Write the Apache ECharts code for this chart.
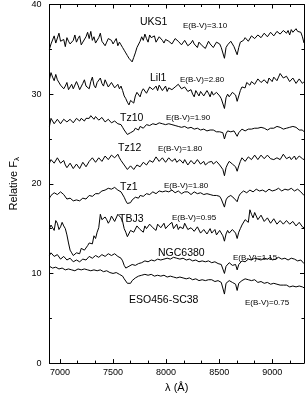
<!DOCTYPE html>
<html><head><meta charset="utf-8">
<script src="https://cdn.jsdelivr.net/npm/echarts@6/dist/echarts.min.js"></script>
<style>html,body{margin:0;padding:0;background:#fff}#c{width:305px;height:398px}</style>
</head><body><div id="c"></div>
<script>
const wavelength = [6900,6930,6960,6990,7020,7050,7080,7110,7140,7170,7200,7230,7260,7290,7320,7350,7380,7410,7440,7470,7500,7530,7560,7590,7620,7650,7680,7710,7740,7770,7800,7830,7860,7890,7920,7950,7980,8010,8040,8070,8100,8130,8160,8190,8220,8250,8280,8310,8340,8370,8400,8430,8460,8490,8520,8550,8580,8610,8640,8670,8700,8730,8760,8790,8820,8850,8880,8910,8940,8970,9000,9030,9060,9090,9120,9150,9180,9210,9240,9270,9300];
const wavelengthMid = [6915,6945,6975,7005,7035,7065,7095,7125,7155,7185,7215,7245,7275,7305,7335,7365,7395,7425,7455,7485,7515,7545,7575,7605,7635,7665,7695,7725,7755,7785,7815,7845,7875,7905,7935,7965,7995,8025,8055,8085,8115,8145,8175,8205,8235,8265,8295,8325,8355,8385,8415,8445,8475,8505,8535,8565,8595,8625,8655,8685,8715,8745,8775,8805,8835,8865,8895,8925,8955,8985,9015,9045,9075,9105,9135,9165,9195,9225,9255,9285];

const uks1 = [35.0,35.4,35.7,36.8,35.8,35.3,35.9,35.4,36.6,36.2,35.5,35.9,36.9,37.0,36.4,35.6,36.8,36.1,35.8,36.4,35.6,36.2,35.8,35.2,34.6,34.0,33.6,34.6,35.0,36.4,36.7,35.8,36.3,36.5,36.0,36.2,35.7,36.3,36.0,35.8,36.4,36.0,35.6,35.9,35.3,36.0,35.5,35.8,35.4,35.1,35.9,35.5,35.3,35.9,35.2,34.0,35.5,35.9,35.3,34.4,35.8,36.0,36.2,36.1,36.4,36.0,36.5,36.3,36.7,36.6,36.8,36.4,36.9,36.6,37.0,37.1,37.2,36.7,37.0,36.9,35.7];
const uks1Mid = [35.6,36.5,35.5,35.9,36.1,36.3,35.6,36.0,35.8,36.5,35.8,36.4,36.2,36.0,35.7,36.3,35.9,35.4,36.2,36.0,35.9,35.4,35.5,34.9,34.3,33.8,34.1,35.2,35.9,36.0,36.2,36.6,36.1,35.8,36.4,36.0,36.1,35.9,35.6,36.2,35.9,35.5,36.0,35.4,35.7,35.6,35.2,35.9,35.6,35.5,35.6,35.2,35.8,35.6,35.4,35.2,35.4,35.7,35.5,35.2,35.6,36.3,35.9,36.5,36.2,36.6,36.3,36.8,36.4,36.9,36.5,37.0,36.7,37.1,36.8,36.6,36.9,37.3,36.8,36.4];

const lil1 = [31.6,31.9,32.2,31.4,31.2,30.9,30.5,31.1,30.8,31.0,30.7,31.6,30.8,31.4,31.0,31.3,31.8,30.9,31.4,31.0,31.2,30.8,30.6,30.4,29.5,28.8,29.4,29.8,30.1,30.3,30.5,30.2,30.9,30.6,30.4,30.8,30.6,30.3,30.9,30.4,30.7,30.9,30.5,30.7,30.2,30.0,30.4,29.8,30.2,29.9,30.1,30.3,29.7,30.0,29.5,28.4,30.0,29.8,30.3,29.2,30.4,31.0,31.3,31.0,31.5,31.2,31.6,31.3,31.5,31.8,31.4,31.7,31.9,32.2,31.7,31.9,31.5,31.7,31.3,31.6,31.4];
const lil1Mid = [32.4,31.5,31.6,31.0,30.6,31.3,30.8,30.6,31.4,30.5,31.2,30.9,30.6,31.9,30.7,31.1,31.2,31.6,30.8,31.3,30.7,31.1,30.9,29.8,29.1,29.3,29.0,30.2,29.7,30.6,30.1,30.8,30.5,30.9,31.0,30.4,30.9,30.7,30.5,30.8,31.1,30.6,30.8,30.3,30.5,29.7,30.1,30.3,29.8,30.4,29.7,29.9,30.2,29.8,29.7,29.6,29.7,30.2,29.9,29.8,30.8,30.7,31.5,31.4,31.1,31.7,31.3,31.6,31.2,31.6,31.9,31.5,32.3,31.8,32.0,31.4,31.8,31.2,31.7,31.2];

const tz10 = [26.4,27.1,26.8,27.0,26.9,27.1,26.8,27.0,26.9,27.1,27.3,27.0,27.4,27.6,27.2,27.4,27.1,27.2,26.9,27.0,26.8,26.9,26.7,26.3,25.8,25.4,25.7,26.2,26.0,26.5,26.3,26.7,26.5,26.8,26.6,26.9,26.7,26.5,26.8,26.6,26.3,26.5,26.2,26.4,26.1,26.3,26.0,26.2,25.9,26.1,25.9,25.8,26.0,25.7,25.6,25.0,25.9,25.8,25.9,25.3,25.9,26.1,25.9,26.2,26.0,26.3,26.1,26.4,26.2,26.0,26.3,26.1,26.5,26.2,26.0,26.4,26.1,26.5,26.2,25.9,25.8];
const tz10Mid = [27.3,26.7,27.2,26.7,27.2,26.9,27.2,26.8,27.3,27.0,27.1,27.3,27.3,27.4,27.5,27.1,27.4,26.9,27.2,26.8,27.0,26.7,26.6,26.0,25.5,25.7,25.9,26.0,26.4,26.2,26.6,26.5,26.7,26.6,26.8,26.7,26.6,26.7,26.6,26.5,26.4,26.3,26.4,26.2,26.3,26.1,26.2,26.0,26.1,25.9,26.0,26.0,25.8,25.8,25.7,25.6,25.8,26.0,25.7,25.7,26.1,25.9,26.1,26.1,26.2,26.2,26.3,26.2,26.0,26.2,26.2,26.4,26.3,26.1,26.2,26.3,26.4,26.3,26.0,26.0];

const tz12 = [22.3,22.8,22.5,22.7,22.4,22.1,21.9,22.2,21.8,22.0,21.9,22.3,22.1,22.6,22.8,22.5,22.9,22.7,23.0,22.8,23.2,23.0,22.9,22.4,21.9,21.7,22.0,21.8,22.2,22.0,22.4,22.3,22.7,22.5,22.9,22.6,22.8,22.5,22.8,22.6,22.4,22.7,22.3,22.6,22.2,22.5,22.3,22.6,22.4,22.1,22.4,22.5,22.2,22.4,21.9,20.9,22.2,22.4,22.0,21.4,22.5,22.8,22.6,23.0,22.7,23.1,22.8,23.0,22.7,23.1,22.9,22.6,23.0,22.8,23.2,22.9,22.7,23.1,22.8,23.0,22.7];
const tz12Mid = [22.7,22.3,22.9,22.3,22.6,21.8,22.3,21.7,22.2,21.7,22.4,21.9,22.5,22.9,22.4,22.9,22.5,23.1,22.7,23.2,22.9,23.3,22.6,22.1,21.6,22.0,21.6,22.1,21.9,22.4,22.1,22.6,22.4,23.0,22.5,22.9,22.4,22.9,22.5,22.8,22.3,22.5,22.7,22.1,22.6,22.2,22.7,22.2,22.5,22.0,22.6,22.2,22.5,22.1,21.6,21.8,22.5,22.2,21.9,22.0,22.9,22.5,23.0,22.7,23.2,22.7,23.2,22.8,23.2,22.8,22.7,22.9,22.7,23.3,22.8,23.0,22.9,22.7,23.1,22.8];

const tz1 = [18.4,18.8,19.1,18.9,19.2,18.6,18.2,18.4,18.0,18.3,18.1,18.5,18.4,18.8,18.7,19.0,19.1,19.3,19.4,19.6,19.5,19.4,19.3,18.9,18.1,17.7,18.2,18.5,18.4,18.8,18.7,19.0,18.9,19.1,19.0,19.2,19.0,19.3,19.1,19.2,19.0,19.1,18.9,19.2,19.0,18.9,19.1,18.8,19.0,18.7,18.9,18.9,18.6,18.8,18.3,17.4,18.5,18.7,18.4,18.0,18.9,19.2,19.0,19.3,19.1,19.4,19.2,19.3,19.1,19.4,19.2,19.3,19.5,19.2,19.4,19.3,19.5,19.2,19.4,19.1,18.7];
const tz1Mid = [18.7,19.0,18.8,19.1,18.8,18.3,18.4,18.1,18.2,18.1,18.4,18.3,18.7,18.6,18.9,18.9,19.2,19.3,19.5,19.4,19.6,19.3,19.1,18.5,17.8,17.9,18.4,18.3,18.7,18.6,18.9,18.8,19.1,18.9,19.2,19.1,19.2,19.1,19.3,19.0,19.2,18.9,19.1,19.1,18.8,19.1,18.9,19.0,18.8,18.9,18.8,18.7,18.7,18.6,18.5,18.2,18.6,18.5,18.6,18.6,19.1,19.0,19.2,19.2,19.3,19.3,19.2,19.1,19.3,19.3,19.3,19.5,19.3,19.4,19.2,19.5,19.3,19.3,19.2,18.9];

const tbj3 = [15.0,15.3,15.9,14.9,15.7,15.0,13.4,12.3,11.9,12.4,12.8,12.6,13.1,13.6,14.2,14.6,16.6,15.8,16.0,15.9,16.2,16.0,16.5,15.8,14.6,14.3,14.9,14.5,15.1,14.7,15.3,14.8,15.4,15.0,15.5,15.1,15.6,15.2,15.4,15.0,15.5,15.2,15.0,15.4,14.9,15.3,14.8,15.1,14.6,15.0,14.7,14.5,14.9,14.4,14.6,13.6,14.8,14.3,14.7,13.9,15.0,15.6,16.1,17.1,16.2,16.6,15.8,16.3,15.6,16.0,15.5,15.9,15.4,15.7,15.3,15.8,15.4,15.6,15.2,15.5,15.1];
const tbj3Mid = [15.4,14.8,15.6,15.2,15.3,14.3,12.6,12.0,12.3,12.2,13.0,12.4,13.4,13.3,13.9,15.1,16.0,16.3,15.6,16.4,15.8,16.6,16.2,15.0,14.1,14.8,14.6,15.3,14.9,14.6,15.0,15.5,15.1,14.8,15.7,15.3,15.0,15.4,15.7,15.2,14.9,15.4,15.6,14.9,15.1,14.7,15.2,14.5,14.9,14.4,15.0,14.7,14.3,14.8,14.2,14.4,14.5,14.9,14.5,14.6,15.4,16.0,15.7,16.6,16.8,16.0,16.5,15.8,16.2,15.6,16.1,15.5,15.9,15.5,15.9,15.5,15.8,15.3,15.7,15.2];

const ngc6380 = [12.0,12.2,12.0,11.9,11.7,11.8,11.5,11.6,11.3,11.5,11.4,11.6,11.7,11.9,11.8,12.0,11.9,12.1,12.0,12.2,12.0,12.1,11.9,11.4,10.6,10.8,11.0,10.9,11.1,11.2,11.4,11.3,11.5,11.4,11.6,11.5,11.6,11.7,11.6,11.8,11.7,11.6,11.7,11.5,11.6,11.4,11.5,11.3,11.4,11.3,11.4,11.2,11.3,11.1,11.0,10.0,11.0,11.1,10.9,10.4,11.2,11.4,11.5,11.4,11.6,11.5,11.7,11.5,11.6,11.7,11.5,11.6,11.8,11.6,11.7,11.5,11.7,11.6,11.4,11.5,11.1];
const ngc6380Mid = [12.3,11.9,12.1,11.6,11.9,11.5,11.7,11.3,11.5,11.3,11.6,11.5,11.9,11.7,12.0,11.8,12.1,11.9,12.2,12.0,12.2,11.9,11.7,10.9,10.7,11.0,10.8,11.1,11.0,11.4,11.2,11.5,11.3,11.6,11.4,11.7,11.5,11.8,11.6,11.9,11.6,11.8,11.5,11.7,11.4,11.6,11.3,11.5,11.2,11.4,11.2,11.4,11.1,11.2,10.9,10.8,11.2,10.9,11.0,11.0,11.4,11.3,11.6,11.5,11.7,11.6,11.5,11.7,11.6,11.8,11.6,11.8,11.6,11.8,11.5,11.7,11.5,11.6,11.4,11.3];

const eso456 = [10.8,10.6,10.7,10.5,10.6,10.4,10.5,10.4,10.3,10.5,10.4,10.5,10.4,10.3,10.4,10.3,10.4,10.2,10.3,10.1,10.0,10.1,9.9,9.7,9.2,8.8,9.2,9.5,9.7,9.8,9.9,9.8,9.9,9.7,9.8,9.7,9.8,9.6,9.7,9.6,9.5,9.6,9.5,9.4,9.5,9.3,9.4,9.2,9.3,9.2,9.3,9.3,9.1,9.2,9.0,7.7,9.1,9.2,9.0,8.1,9.1,9.3,9.4,9.3,9.2,9.1,9.2,9.0,8.9,9.0,8.8,8.9,8.7,8.8,8.6,8.7,8.5,8.6,8.5,8.6,8.4];
const eso456Mid = [10.6,10.8,10.5,10.7,10.4,10.6,10.3,10.5,10.4,10.3,10.6,10.3,10.5,10.4,10.2,10.4,10.3,10.3,10.1,10.2,10.1,9.9,9.9,9.4,8.9,8.9,9.4,9.6,9.8,9.7,9.9,9.9,9.8,9.8,9.6,9.8,9.6,9.7,9.5,9.6,9.6,9.4,9.5,9.5,9.3,9.4,9.2,9.3,9.3,9.1,9.4,9.2,9.2,9.0,8.9,8.9,9.2,9.0,8.8,8.9,9.2,9.4,9.3,9.2,9.3,9.0,9.1,8.9,9.0,8.8,8.9,8.8,8.7,8.7,8.7,8.5,8.6,8.5,8.6,8.5];

const spectra = [[uks1,uks1Mid],[lil1,lil1Mid],[tz10,tz10Mid],[tz12,tz12Mid],[tz1,tz1Mid],[tbj3,tbj3Mid],[ngc6380,ngc6380Mid],[eso456,eso456Mid]];
const names = ['UKS1','Lil1','Tz10','Tz12','Tz1','TBJ3','NGC6380','ESO456-SC38'];
const reddening = ['E(B-V)=3.10','E(B-V)=2.80','E(B-V)=1.90','E(B-V)=1.80','E(B-V)=1.80','E(B-V)=0.95','E(B-V)=1.15','E(B-V)=0.75'];

const xMajorTicks = [7000,7500,8000,8500,9000];
const xMinorTicks = [7166.67,7333.33,7666.67,7833.33,8166.67,8333.33,8666.67,8833.33,9166.67];

const FONT = '"Liberation Sans", Arial, Helvetica, sans-serif';
// label placement (pixels)
const nameLabelPos = [[140,22.5],[150,78.5],[120,118],[118,148.5],[120,187],[119,219.5],[158,253.5],[129,300]];
const redLabelPos = [[183,25.5],[180,80],[166,118],[158,148.5],[164,186],[172,217.5],[233,258],[245,302.5]];

function buildData(main, mid) {
  const out = [];
  for (let i = 0; i < wavelength.length; i++) {
    out.push([wavelength[i], main[i]]);
    if (i < wavelengthMid.length) out.push([wavelengthMid[i], mid[i]]);
  }
  return out;
}

const chart = echarts.init(document.getElementById('c'), null, {renderer:'canvas'});
const X0 = 6900, X1 = 9300;
function xAx(pos, ticks, len, showLine, showLabel, extra) {
  return Object.assign({
    type:'value', position:pos, min:X0, max:X1,
    axisLine:{show:showLine, onZero:false, lineStyle:{color:'#000', width:1}},
    axisTick:{show:true, inside:true, length:len, customValues:ticks, lineStyle:{color:'#000', width:1}},
    axisLabel:{show:showLabel, customValues:ticks, formatter:(v)=>String(Math.round(v)), color:'#000', fontSize:9, fontFamily:FONT, margin:5},
    splitLine:{show:false}
  }, extra||{});
}
function yAx(pos, showLabel, extra) {
  return Object.assign({
    type:'value', position:pos, min:0, max:40, interval:10,
    axisLine:{show:true, onZero:false, lineStyle:{color:'#000', width:1}},
    axisTick:{show:true, inside:true, length:4, lineStyle:{color:'#000', width:1}},
    minorTick:{show:true, splitNumber:2, length:2.5, lineStyle:{color:'#000', width:1}},
    axisLabel:{show:showLabel, color:'#000', fontSize:9, fontFamily:FONT, margin:8},
    splitLine:{show:false}
  }, extra||{});
}
const graphics = [];
names.forEach((n,i)=>{
  graphics.push({type:'text', x:nameLabelPos[i][0], y:nameLabelPos[i][1],
    style:{text:n, fill:'#000', fontSize:10.5, fontFamily:FONT, align:'left', verticalAlign:'middle'}});
  graphics.push({type:'text', x:redLabelPos[i][0], y:redLabelPos[i][1],
    style:{text:reddening[i], fill:'#000', fontSize:8, fontFamily:FONT, align:'left', verticalAlign:'middle'}});
});
chart.setOption({
  animation:false,
  backgroundColor:'#fff',
  grid:{left:33, right:1, top:4, bottom:27, containLabel:false},
  xAxis:[
    xAx('bottom', xMajorTicks, 4, true, true, {name:'λ (Å)', nameLocation:'middle', nameGap:16,
      nameTextStyle:{color:'#000', fontSize:11, fontFamily:FONT}}),
    xAx('bottom', xMinorTicks, 2.5, false, false),
    xAx('top', xMajorTicks, 4, true, false),
    xAx('top', xMinorTicks, 2.5, false, false)
  ],
  yAxis:[
    yAx('left', true, {name:'Relative F{s|λ}', nameLocation:'middle', nameGap:15,
      nameTextStyle:{color:'#000', fontSize:11, fontFamily:FONT, rich:{s:{fontSize:8, verticalAlign:'bottom', color:'#000', fontFamily:FONT, padding:[6,0,0,0]}}}}),
    yAx('right', false)
  ],
  series: spectra.map((pair,k)=>({
    type:'line', name:names[k], xAxisIndex:0, yAxisIndex:0,
    data: buildData(pair[0], pair[1]),
    showSymbol:false, symbol:'none', silent:true,
    lineStyle:{color:'#000', width:1}
  })),
  graphic: graphics
});
</script></body></html>
